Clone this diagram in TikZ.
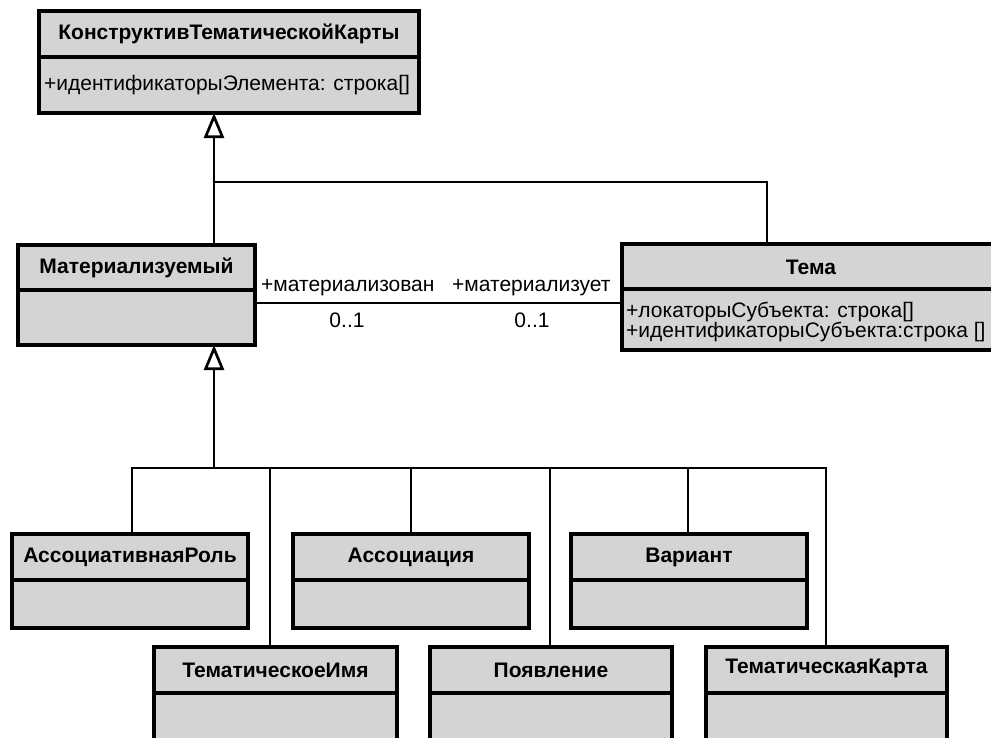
\documentclass[tikz,border=0pt]{standalone}
\usepackage{fontspec}
\setmainfont{Liberation Sans}
\usetikzlibrary{arrows.meta,calc}
\definecolor{boxgray}{RGB}{212,212,212}
\tikzset{
  cls/.style={draw, line width=3.3pt, fill=boxgray, inner sep=0pt, outer sep=0pt, anchor=north west},
  sepline/.style={line width=3.3pt},
  conn/.style={line width=2.7pt},
  gen/.style={conn, -{Triangle[open, width=20pt, length=25pt, line width=2.7pt]}},
  ttl/.style={font=\bfseries\fontsize{21}{23}\selectfont, inner sep=0pt},
  txt/.style={font=\fontsize{21}{20}\selectfont, inner sep=0pt},
}
\begin{document}
\begin{tikzpicture}[x=1pt, y=-1pt]
\useasboundingbox (0,0) rectangle (991,737);
% top class
\node[cls, minimum width=380pt, minimum height=102pt] (top) at (39,11) {};
\draw[sepline] (top.west |- 0,57) -- (top.east |- 0,57);
\node[ttl] (topt) at ([yshift=-23pt]top.north) {КонструктивТематическойКарты};
\node[txt, anchor=west] (topa) at (44,85) {+идентификаторыЭлемента: строка[]};
% Materializable
\node[cls, minimum width=237pt, minimum height=100pt] (mat) at (18,245) {};
\draw[sepline] (mat.west |- 0,290) -- (mat.east |- 0,290);
\node[ttl] (matt) at ([yshift=-23pt]mat.north) {Материализуемый};
% Topic
\node[cls, minimum width=400pt, minimum height=106pt] (tema) at (622,244) {};
\draw[sepline] (tema.west |- 0,289) -- (tema.east |- 0,289);
\node[ttl] (temat) at (811,267) {Тема};
\node[txt, align=left, anchor=north west] (temaa) at (626,302) {+локаторыСубъекта: строка[]\\+идентификаторыСубъекта:строка []};
% bottom classes
\node[cls, minimum width=236pt, minimum height=94pt] (ar) at (12,534) {};
\draw[sepline] (ar.west |- 0,580) -- (ar.east |- 0,580);
\node[ttl] (art) at ([yshift=-23pt]ar.north) {АссоциативнаяРоль};
\node[cls, minimum width=236pt, minimum height=94pt] (as) at (293,534) {};
\draw[sepline] (as.west |- 0,580) -- (as.east |- 0,580);
\node[ttl] (ast) at ([yshift=-23pt]as.north) {Ассоциация};
\node[cls, minimum width=236pt, minimum height=94pt] (va) at (571,534) {};
\draw[sepline] (va.west |- 0,580) -- (va.east |- 0,580);
\node[ttl] (vat) at ([yshift=-23pt]va.north) {Вариант};
\node[cls, minimum width=243pt, minimum height=120pt] (ti) at (154,647) {};
\draw[sepline] (ti.west |- 0,693) -- (ti.east |- 0,693);
\node[ttl] (tit) at ([yshift=-23pt]ti.north) {ТематическоеИмя};
\node[cls, minimum width=242pt, minimum height=120pt] (po) at (430,647) {};
\draw[sepline] (po.west |- 0,693) -- (po.east |- 0,693);
\node[ttl] (pot) at ([yshift=-23pt]po.north) {Появление};
\node[cls, minimum width=241pt, minimum height=120pt] (tk) at (706,647) {};
\draw[sepline] (tk.west |- 0,693) -- (tk.east |- 0,693);
\node[ttl] (tkt) at ([yshift=-21pt]tk.north) {ТематическаяКарта};
% upper generalization
\coordinate (j1) at (214,182);
\coordinate (tx) at (767,182);
\draw[gen] (mat.north -| j1) -- (top.south -| j1);
\draw[conn] (j1) -- (tx) -- (tema.north -| tx);
% association
\coordinate (al) at (0,303);
\draw[conn] (mat.east |- al) -- (tema.west |- al);
\node[txt, anchor=west] (r1) at (261,288) {+материализован};
\node[txt, anchor=west] (r2) at (452,288) {+материализует};
\node[txt] (m1) at (347,320) {0..1};
\node[txt] (m2) at (532,320) {0..1};
% lower generalization
\coordinate (bus) at (214,468);
\coordinate (c1) at (132,468);
\coordinate (c2) at (270,468);
\coordinate (c3) at (411,468);
\coordinate (c4) at (550,468);
\coordinate (c5) at (688,468);
\coordinate (c6) at (826,468);
\draw[gen] (bus) -- (mat.south -| bus);
\draw[conn] (ar.north -| c1) -- (c1) -- (c6) -- (tk.north -| c6);
\draw[conn] (c2) -- (ti.north -| c2);
\draw[conn] (c3) -- (as.north -| c3);
\draw[conn] (c4) -- (po.north -| c4);
\draw[conn] (c5) -- (va.north -| c5);
\end{tikzpicture}
\end{document}
